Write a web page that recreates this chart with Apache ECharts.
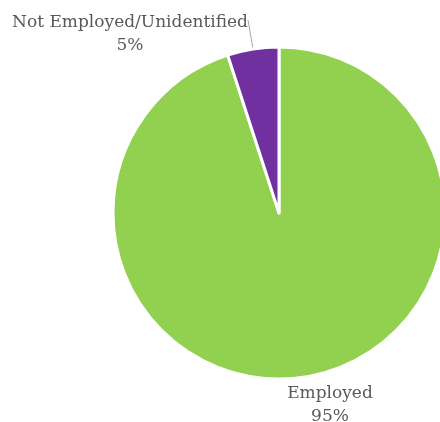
<!DOCTYPE html>
<html>
<head>
<meta charset="utf-8">
<script src="https://cdn.jsdelivr.net/npm/echarts@6/dist/echarts.min.js"></script>
<style>
  html, body { margin: 0; padding: 0; background: #fff; }
  #chart { width: 440px; height: 422px; }
</style>
</head>
<body>
<div id="chart"></div>
<script>
// Employment status breakdown
const categories = ['Employed', 'Not Employed/Unidentified'];
const values = [95, 5];
const colors = ['#92d050', '#7030a0'];

const chart = echarts.init(document.getElementById('chart'), null, { renderer: 'canvas' });

const seriesData = categories.map((name, i) => ({
  name: name,
  value: values[i],
  itemStyle: { color: colors[i] },
  labelLine: { show: i === 1 }
}));

chart.setOption({
  animation: false,
  backgroundColor: '#ffffff',
  series: [{
    type: 'pie',
    center: [279, 213],
    radius: 166,
    startAngle: 90,
    clockwise: true,
    data: seriesData,
    itemStyle: { borderColor: '#ffffff', borderWidth: 3 },
    label: {
      show: true,
      position: 'outside',
      formatter: '{b}\n{d}%',
      fontFamily: '"DejaVu Serif", serif',
      fontSize: 17,
      lineHeight: 23,
      color: '#595959',
      align: 'center',
      overflow: 'none'
    },
    labelLine: {
      show: true,
      length: 20,
      length2: 0,
      lineStyle: { color: '#a6a6a6', width: 1 }
    },
    labelLayout: function (params) {
      const p = params.labelLinePoints;
      if (!p) return {};
      const e = p[0];
      if (params.dataIndex === 1) {
        return {
          x: e[0] - 123,
          y: e[1] - 38,
          align: 'center',
          verticalAlign: 'top',
          labelLinePoints: [e, [e[0] - 5, e[1] - 29], [e[0] - 5, e[1] - 29]]
        };
      }
      return {
        x: e[0] + 25,
        y: e[1] + 5,
        align: 'center',
        verticalAlign: 'top'
      };
    }
  }]
});
</script>
</body>
</html>
